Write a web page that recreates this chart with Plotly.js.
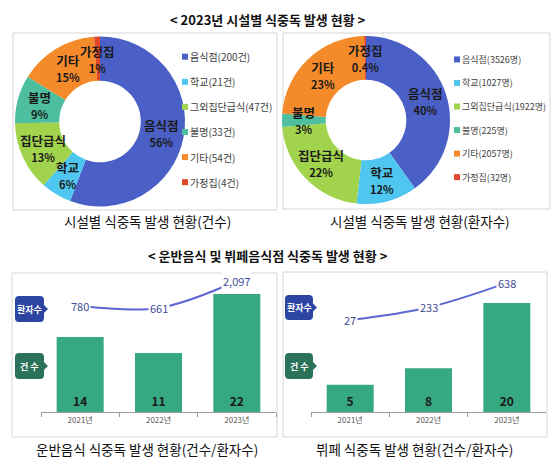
<!DOCTYPE html>
<html><head><meta charset="utf-8">
<script src="https://cdn.plot.ly/plotly-3.0.1.min.js"></script>
<style>html,body{margin:0;padding:0;background:#fff}#chart{width:560px;height:472px}</style>
</head><body><div id="chart"></div>
<script>
// ---- data ----
const facilityNames = ['음식점','학교','그외집단급식','불명','기타','가정집'];
const facilityShort = ['음식점','학교','집단급식','불명','기타','가정집'];
const casesByFacility = [200, 21, 47, 33, 54, 4];
const patientsByFacility = [3526, 1027, 1922, 225, 2057, 32];
const years = ['2021년','2022년','2023년'];
const deliveryCases = [14, 11, 22];
const deliveryPatients = [780, 661, 2097];
const buffetCases = [5, 8, 20];
const buffetPatients = [27, 233, 638];

// ---- styles ----
const FONT = "'Noto Sans CJK KR','Noto Sans',sans-serif";
const NARROW = "'Liberation Sans Narrow','Noto Sans CJK KR',sans-serif";
const pieColors = ['#4a60c6','#4fc6ef','#a2d34c','#4dbf9f','#f58a2b','#e2492b'];
const barColor = '#36a982';
const lineColor = '#5c68d2';
const HOLE = 0.48;
const W = 560, H = 472;
const px = x => x / W, py = y => 1 - y / H;

// pie geometry (pixels): centre and radius, used for the domain and the slice labels
const pieL = {cx: 100, cy: 121.5, r: 85};
const pieR = {cx: 366, cy: 120, r: 84};

function pieTrace(values, unit, g, legendId, legendFontPx) {
  return {
    type: 'pie', values: values,
    labels: facilityNames.map((n, i) => '<span style="font-size:' + legendFontPx + 'px">' + n + '(' + values[i] + unit + ')</span>'),
    sort: false, direction: 'clockwise', hole: HOLE,
    marker: {colors: pieColors, line: {width: 0}},
    textinfo: 'none',
    domain: {x: [px(g.cx - g.r), px(g.cx + g.r)], y: [py(g.cy + g.r), py(g.cy - g.r)]},
    legend: legendId, hoverinfo: 'none'
  };
}

// slice labels placed at the ring middle along each slice's mid-angle (computed from the data)
function pieLabels(values, g) {
  const total = values.reduce((a, b) => a + b, 0);
  const rm = g.r * (1 + HOLE) / 2;
  let cum = 0;
  return values.map((v, i) => {
    const frac = v / total;
    const mid = (cum + frac / 2) * 2 * Math.PI;
    cum += frac;
    const pct = frac * 100;
    const s = pct < 1 ? pct.toFixed(1) : pct.toFixed(0);
    return {xref: 'paper', yref: 'paper', showarrow: false, xanchor: 'center', yanchor: 'middle',
      x: px(g.cx + rm * Math.sin(mid)), y: py(g.cy - rm * Math.cos(mid)),
      text: '<b>' + facilityShort[i] + '</b><br><b><span style="font-size:11px">' + s + '%</span></b>',
      font: {family: FONT, size: 12.5, color: '#1a1a1a'}};
  });
}

const data = [
  pieTrace(casesByFacility, '건', pieL, 'legend', 10),
  pieTrace(patientsByFacility, '명', pieR, 'legend2', 9),
  {type: 'bar', x: years, y: deliveryCases, xaxis: 'x', yaxis: 'y', marker: {color: barColor},
   text: deliveryCases, texttemplate: '<b>%{y}</b>', textposition: 'inside', insidetextanchor: 'start',
   constraintext: 'none', textfont: {size: 12, color: '#1a1a1a', family: NARROW}, showlegend: false, hoverinfo: 'none'},
  {type: 'scatter', mode: 'lines', x: years, y: deliveryPatients, xaxis: 'x', yaxis: 'y2',
   line: {color: lineColor, width: 2, shape: 'spline'}, showlegend: false, hoverinfo: 'none'},
  {type: 'bar', x: years, y: buffetCases, xaxis: 'x2', yaxis: 'y3', marker: {color: barColor},
   text: buffetCases, texttemplate: '<b>%{y}</b>', textposition: 'inside', insidetextanchor: 'start',
   constraintext: 'none', textfont: {size: 12, color: '#1a1a1a', family: NARROW}, showlegend: false, hoverinfo: 'none'},
  {type: 'scatter', mode: 'lines', x: years, y: buffetPatients, xaxis: 'x2', yaxis: 'y4',
   line: {color: lineColor, width: 2, shape: 'spline'}, showlegend: false, hoverinfo: 'none'}
];

function badgePath(x0, y0, x1, y1, r, p) {
  const yc = (y0 + y1) / 2;
  const P = (x, y) => px(x).toFixed(5) + ',' + py(y).toFixed(5);
  return 'M' + P(x0 + r, y0) + ' L' + P(x1 - r, y0) + ' Q' + P(x1, y0) + ' ' + P(x1, y0 + r) +
    ' L' + P(x1, yc - p) + ' L' + P(x1 + p, yc) + ' L' + P(x1, yc + p) +
    ' L' + P(x1, y1 - r) + ' Q' + P(x1, y1) + ' ' + P(x1 - r, y1) +
    ' L' + P(x0 + r, y1) + ' Q' + P(x0, y1) + ' ' + P(x0, y1 - r) +
    ' L' + P(x0, y0 + r) + ' Q' + P(x0, y0) + ' ' + P(x0 + r, y0) + ' Z';
}
function box(x0, y0, x1, y1) {
  return {type: 'rect', xref: 'paper', yref: 'paper', x0: px(x0), x1: px(x1), y0: py(y1), y1: py(y0),
          line: {color: '#d6d6d6', width: 1}, layer: 'below'};
}
const badges = [
  {x0: 15, y0: 296, x1: 44, y1: 322, c: '#2c45a3', t: '환자수'},
  {x0: 15, y0: 353, x1: 44, y1: 379, c: '#2a7259', t: '건 수'},
  {x0: 285, y0: 295, x1: 313, y1: 320, c: '#2c45a3', t: '환자수'},
  {x0: 285, y0: 353, x1: 313, y1: 379, c: '#2a7259', t: '건 수'}
];
const shapes = [box(13, 33, 277, 210), box(283, 33, 550, 209), box(12, 273, 277, 437), box(283, 272, 547, 437)]
  .concat(badges.map(b => ({type: 'path', xref: 'paper', yref: 'paper', path: badgePath(b.x0, b.y0, b.x1, b.y1, 4, 4),
    fillcolor: b.c, line: {width: 0}})));

function txt(x, y, t, size, bold, color) {
  return {xref: 'paper', yref: 'paper', x: px(x), y: py(y), xanchor: 'center', yanchor: 'middle', showarrow: false,
          text: bold ? '<b>' + t + '</b>' : t, font: {family: FONT, size: size, color: color || '#111'}};
}
const annotations = [
  txt(268, 19, '&lt; 2023년 시설별 식중독 발생 현황 &gt;', 13, true),
  txt(268, 255, '&lt; 운반음식 및 뷔페음식점 식중독 발생 현황 &gt;', 13, true),
  txt(147, 221, '시설별 식중독 발생 현황(건수)', 13.5, false),
  txt(420, 221, '시설별 식중독 발생 현황(환자수)', 13.5, false),
  txt(147, 449, '운반음식 식중독 발생 현황(건수/환자수)', 13.5, false),
  txt(414, 449, '뷔페 식중독 발생 현황(건수/환자수)', 13.5, false)
].concat(badges.map(b => txt((b.x0 + b.x1) / 2, (b.y0 + b.y1) / 2, b.t, 9, true, '#fff')))
 .concat(pieLabels(casesByFacility, pieL), pieLabels(patientsByFacility, pieR));

function lineLabels(vals, xref, yref) {
  return vals.map((v, i) => ({x: years[i], y: v, xref: xref, yref: yref, showarrow: false,
    text: v.toLocaleString('en-US'), bgcolor: '#fff', borderpad: 1,
    font: {family: NARROW, size: 11, color: '#3e4c98'}}));
}
annotations.push(...lineLabels(deliveryPatients, 'x', 'y2'), ...lineLabels(buffetPatients, 'x2', 'y4'));

const xBase = {type: 'category', showline: true, linecolor: '#9a9a9a', linewidth: 1, ticks: 'outside',
  tickson: 'boundaries', ticklen: 4, tickcolor: '#9a9a9a', tickfont: {size: 8, color: '#555', family: FONT},
  showgrid: false, zeroline: false, fixedrange: true, range: [-0.5, 2.5]};
const yHidden = {visible: false, fixedrange: true, showgrid: false, zeroline: false};
const barDomY = [py(412), py(280)];

const legendBase = {xanchor: 'left', yanchor: 'top', bgcolor: 'rgba(0,0,0,0)', borderwidth: 0,
  traceorder: 'normal'};

const layout = {
  width: W, height: H, margin: {l: 0, r: 0, t: 0, b: 0},
  paper_bgcolor: '#fff', plot_bgcolor: 'rgba(0,0,0,0)',
  font: {family: FONT, color: '#333'},
  bargap: 0.4,
  xaxis: Object.assign({}, xBase, {domain: [px(41), px(276)], anchor: 'y'}),
  yaxis: Object.assign({}, yHidden, {domain: barDomY, range: [0, 24.6], anchor: 'x'}),
  yaxis2: Object.assign({}, yHidden, {overlaying: 'y', anchor: 'x', range: [-4872, 2149]}),
  xaxis2: Object.assign({}, xBase, {domain: [px(311), px(546)], anchor: 'y3'}),
  yaxis3: Object.assign({}, yHidden, {domain: barDomY, range: [0, 24.2], anchor: 'x2'}),
  yaxis4: Object.assign({}, yHidden, {overlaying: 'y3', anchor: 'x2', range: [-1492, 686]}),
  legend: Object.assign({}, legendBase, {x: px(150), y: py(37), font: {size: 17, color: '#404040', family: FONT}}),
  legend2: Object.assign({}, legendBase, {x: px(422), y: py(40), font: {size: 15.8, color: '#404040', family: FONT}}),
  shapes: shapes, annotations: annotations, showlegend: true
};

// shrink the legend swatches and place them just left of their labels
function fixLegendSwatches() {
  document.querySelectorAll('#chart g.traces').forEach(tr => {
    const t = tr.querySelector('text');
    const p = tr.querySelector('.legendpoints path');
    if (!t || !p) return;
    if (!p.hasAttribute('data-base')) p.setAttribute('data-base', p.getAttribute('transform') || '');
    const base = p.getAttribute('data-base');
    p.setAttribute('transform', base + ' scale(0.5)');
    const tb = t.getBoundingClientRect();
    const pb = p.getBoundingClientRect();
    if (!tb.width || !pb.width) return;
    const dx = (tb.left - 5) - (pb.left + pb.width / 2);
    const dy = (tb.top + tb.height / 2) - (pb.top + pb.height / 2);
    p.setAttribute('transform', 'translate(' + dx.toFixed(2) + ',' + dy.toFixed(2) + ') ' + base + ' scale(0.5)');
  });
}

Plotly.newPlot('chart', data, layout, {staticPlot: true, displayModeBar: false}).then(gd => {
  fixLegendSwatches();
  gd.on('plotly_afterplot', fixLegendSwatches);
  setTimeout(fixLegendSwatches, 50);
  setTimeout(fixLegendSwatches, 300);
});
</script></body></html>
